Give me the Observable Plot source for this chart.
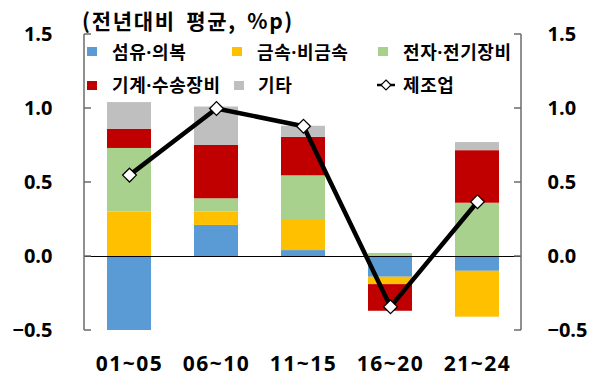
<!DOCTYPE html>
<html>
<head>
<meta charset="utf-8">
<script src="https://cdn.jsdelivr.net/npm/d3@7"></script>
<script src="https://cdn.jsdelivr.net/npm/@observablehq/plot@0.6"></script>
<style>
  html, body { margin: 0; padding: 0; background: #fff; }
  #wrap { position: relative; width: 597px; height: 376px; overflow: hidden; font-family: "Noto Sans CJK KR", "Noto Sans", sans-serif; }
  #title { position: absolute; left: 82px; top: 6px; font-size: 21px; font-weight: bold; line-height: 28px; color: #000; white-space: nowrap; letter-spacing: 1.7px; word-spacing: 4px; }
  .lg { position: absolute; font-family: "Open Sans", "Noto Sans CJK KR", sans-serif; font-size: 18px; font-weight: bold; color: #000; white-space: nowrap; line-height: 24px; letter-spacing: 0.6px; }
  .sw { position: absolute; width: 10px; height: 9px; }
</style>
</head>
<body>
<div id="wrap">
  <div id="chart"></div>
  <div id="title">(전년대비 평균, %p)</div>
  <div id="legend"></div>
</div>
<script>
const categories = ["01~05", "06~10", "11~15", "16~20", "21~24"];
const seriesNames = ["섬유·의복", "금속·비금속", "전자·전기장비", "기계·수송장비", "기타"];
const seriesColors = ["#5B9BD5", "#FFC000", "#A9D18E", "#C00000", "#BFBFBF"];
const textile     = [-0.50, 0.21, 0.04, -0.14, -0.10];
const metal       = [ 0.30, 0.09, 0.21, -0.05, -0.31];
const electronics = [ 0.43, 0.09, 0.295, 0.02, 0.36];
const machinery   = [ 0.13, 0.36, 0.26, -0.18, 0.355];
const others      = [ 0.18, 0.26, 0.075, 0.00, 0.055];
const manufacturing = [0.55, 1.00, 0.88, -0.34, 0.37];
const lineName = "제조업";
const yTicks = [-0.5, 0, 0.5, 1.0, 1.5];

const seriesValues = [textile, metal, electronics, machinery, others];
const barData = [];
seriesNames.forEach((s, si) => {
  categories.forEach((c, ci) => barData.push({period: c, series: s, value: seriesValues[si][ci]}));
});
const lineData = categories.map((c, i) => ({period: c, value: manufacturing[i]}));

const axisColor = "#6b6b6b";
const fmt = d3.format(".1f");
const labelStyle = {fontSize: 20, fontWeight: "bold", fill: "#000", fontFamily: "'Open Sans', sans-serif"};

const chart = Plot.plot({
  width: 597,
  height: 376,
  marginLeft: 84,
  marginRight: 76,
  marginTop: 34,
  marginBottom: 46,
  style: {background: "transparent", overflow: "visible"},
  x: {domain: categories, paddingInner: 0.5, paddingOuter: 0.25, axis: null},
  y: {domain: [-0.5, 1.5], axis: null},
  color: {domain: seriesNames, range: seriesColors},
  marks: [
    Plot.barY(barData, {x: "period", y: "value", fill: "series"}),
    Plot.ruleY([0], {stroke: "#000", strokeWidth: 1.2}),
    Plot.line(lineData, {x: "period", y: "value", stroke: "#000", strokeWidth: 4.5}),
    Plot.dot(lineData, {x: "period", y: "value", symbol: "diamond2", r: 6.2, fill: "#fff", stroke: "#000", strokeWidth: 1.3}),
    Plot.axisY({anchor: "left", ticks: yTicks, tickSize: 0, tickPadding: 32, tickFormat: fmt, label: null, ...labelStyle, stroke: null}),
    Plot.axisY({anchor: "right", ticks: yTicks, tickSize: 0, tickPadding: 26, tickFormat: fmt, label: null, ...labelStyle, stroke: null}),
    Plot.axisX({anchor: "bottom", tickSize: 0, tickPadding: 26, label: null, fontSize: 21, fontWeight: "bold", fill: "#000", fontFamily: "'Open Sans', sans-serif"})
  ]
});
document.getElementById("chart").appendChild(chart);
d3.select(chart).selectAll("[aria-label='x-axis tick label'] text").style("letter-spacing", "1.5px");

// axis lines with inward ticks, positioned through Plot's own scales
const ys = chart.scale("y"), xs = chart.scale("x");
const yPix = v => ys.apply(v);
const [xl, xr] = xs.range;
const svg = d3.select(chart);
const g = svg.append("g").attr("stroke", axisColor).attr("stroke-width", 1.5).attr("fill", "none");
const [y0, y1] = [yPix(ys.domain[0]), yPix(ys.domain[1])];
g.append("line").attr("x1", xl).attr("x2", xl).attr("y1", y0).attr("y2", y1);
g.append("line").attr("x1", xr).attr("x2", xr).attr("y1", y0).attr("y2", y1);
yTicks.forEach(t => {
  g.append("line").attr("x1", xl).attr("x2", xl + 7).attr("y1", yPix(t)).attr("y2", yPix(t));
  g.append("line").attr("x1", xr).attr("x2", xr - 7).attr("y1", yPix(t)).attr("y2", yPix(t));
});

// legend (HTML overlay)
const legend = document.getElementById("legend");
const legendItems = [
  {name: seriesNames[0], color: seriesColors[0], sx: 87, tx: 112, cy: 51.5},
  {name: seriesNames[1], color: seriesColors[1], sx: 232, tx: 257, cy: 51.5},
  {name: seriesNames[2], color: seriesColors[2], sx: 378, tx: 403, cy: 51.5},
  {name: seriesNames[3], color: seriesColors[3], sx: 87, tx: 112, cy: 85},
  {name: seriesNames[4], color: seriesColors[4], sx: 234, tx: 258, cy: 85}
];
legendItems.forEach(it => {
  const sw = document.createElement("div");
  sw.className = "sw";
  sw.style.left = it.sx + "px";
  sw.style.top = (it.cy - 4.5) + "px";
  sw.style.background = it.color;
  legend.appendChild(sw);
  const t = document.createElement("div");
  t.className = "lg";
  t.style.left = it.tx + "px";
  t.style.top = (it.cy - 12) + "px";
  t.textContent = it.name;
  legend.appendChild(t);
});
const ns = "http://www.w3.org/2000/svg";
const ls = document.createElementNS(ns, "svg");
ls.setAttribute("width", 22); ls.setAttribute("height", 14);
ls.style.position = "absolute"; ls.style.left = "375px"; ls.style.top = "78px";
ls.innerHTML = '<line x1="2" y1="7" x2="20" y2="7" stroke="#000" stroke-width="2.5"/>' +
  '<path d="M11,2 L16,7 L11,12 L6,7 Z" fill="#fff" stroke="#000" stroke-width="1.2"/>';
legend.appendChild(ls);
const lt = document.createElement("div");
lt.className = "lg"; lt.style.left = "403px"; lt.style.top = (85 - 12) + "px";
lt.textContent = lineName;
legend.appendChild(lt);
</script>
</body>
</html>
